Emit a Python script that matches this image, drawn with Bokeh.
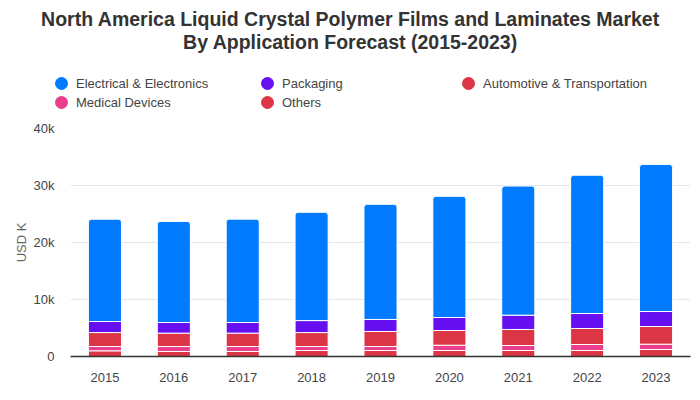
from bokeh.plotting import figure
from bokeh.models import (ColumnDataSource, Range1d, FactorRange, Legend, LegendItem,
                          Label, NumeralTickFormatter, SingleIntervalTicker)
from bokeh.embed import file_html
from bokeh.resources import INLINE

years = ["2015", "2016", "2017", "2018", "2019", "2020", "2021", "2022", "2023"]
others = [1000, 880, 880, 1050, 1050, 1050, 1050, 1050, 1230]
medical = [750, 870, 870, 700, 700, 930, 880, 1050, 930]
automotive = [2450, 2350, 2350, 2450, 2640, 2580, 2810, 2810, 3100]
packaging = [1940, 1860, 1860, 2100, 2110, 2280, 2510, 2630, 2640]
electrical = [17950, 17740, 18140, 19000, 20200, 21260, 22650, 24260, 25800]

series = ["Others", "Medical Devices", "Automotive & Transportation", "Packaging",
          "Electrical & Electronics"]
colors = ["#dc3545", "#e83e8c", "#dc3545", "#6610f2", "#007bff"]
title_lines = ["North America Liquid Crystal Polymer Films and Laminates Market",
               "By Application Forecast (2015-2023)"]

FONT = "Liberation Sans"
W = 692
HEAD_H = 118

# ---------------- header: title + legend (separate root, frame = whole canvas) ----
head = figure(width=W, height=HEAD_H, x_range=Range1d(0, W), y_range=Range1d(0, HEAD_H),
              output_backend="svg", toolbar_location=None,
              x_axis_location=None, y_axis_location=None,
              min_border_left=0, min_border_right=0,
              min_border_top=0, min_border_bottom=0)
head.outline_line_color = None
head.xgrid.visible = False
head.ygrid.visible = False

for i, t in enumerate(title_lines):
    head.add_layout(Label(x=350, y=100 - 23 * i, text=t, text_align="center",
                          text_baseline="middle", text_font=FONT,
                          text_font_size="19.5px", text_font_style="bold",
                          text_color="#333333"))

legend_order = ["Electrical & Electronics", "Packaging", "Automotive & Transportation",
                "Medical Devices", "Others"]
# (left of glyph box, bottom of item) in header pixels
positions = [(46, 20), (252, 20), (453, 20), (46, 1), (252, 1)]
color_of = dict(zip(series, colors))
for name, (lx, ly) in zip(legend_order, positions):
    proxy = head.scatter(x=[0], y=[0], marker="circle", size=12,
                         color=color_of[name], visible=False)
    leg = Legend(items=[LegendItem(label=name, renderers=[proxy])],
                 location=(lx, ly), padding=0, margin=0, spacing=0,
                 glyph_width=30, glyph_height=30, label_standoff=0,
                 border_line_alpha=0, background_fill_alpha=0,
                 inactive_fill_alpha=0, click_policy="none",
                 label_text_font=FONT, label_text_font_size="13px",
                 label_text_color="#444444", label_height=15)
    head.add_layout(leg, "center")

# ---------------- chart ----------------
source = ColumnDataSource(dict(year=years, **{
    "Others": others, "Medical Devices": medical,
    "Automotive & Transportation": automotive, "Packaging": packaging,
    "Electrical & Electronics": electrical}))

p = figure(x_range=FactorRange(*years), y_range=Range1d(0, 40000),
           width=W, height=274, output_backend="svg", toolbar_location=None,
           min_border_left=70, min_border_right=2, min_border_top=10,
           min_border_bottom=36)
p.outline_line_color = None

renderers = p.vbar_stack(series, x="year", width=0.48, color=colors, source=source,
                         line_color="white", line_width=1)
renderers[-1].glyph.border_radius = (3, 3, 0, 0)

p.xgrid.grid_line_color = None
p.ygrid.grid_line_color = "#e6e6e6"
p.ygrid.grid_line_width = 1
p.yaxis.ticker = SingleIntervalTicker(interval=10000)
p.yaxis.formatter = NumeralTickFormatter(format="0a")
p.yaxis.axis_line_color = None
p.yaxis.major_tick_line_color = None
p.yaxis.minor_tick_line_color = None
p.yaxis.major_tick_out = 0
p.yaxis.minor_tick_out = 0
p.yaxis.major_label_standoff = 16
p.yaxis.major_label_text_font = FONT
p.yaxis.major_label_text_font_size = "13px"
p.yaxis.major_label_text_color = "#444444"
p.yaxis.axis_label = "USD K"
p.yaxis.axis_label_text_font = FONT
p.yaxis.axis_label_text_font_size = "13px"
p.yaxis.axis_label_text_font_style = "normal"
p.yaxis.axis_label_text_color = "#666666"
p.yaxis.axis_label_standoff = 2

p.xaxis.axis_line_color = "#333333"
p.xaxis.axis_line_width = 1.5
p.xaxis.major_tick_line_color = None
p.xaxis.minor_tick_line_color = None
p.xaxis.major_tick_out = 0
p.xaxis.minor_tick_out = 0
p.xaxis.major_label_standoff = 16
p.xaxis.major_label_text_font = FONT
p.xaxis.major_label_text_font_size = "13px"
p.xaxis.major_label_text_color = "#444444"

open("out.html", "w").write(file_html([head, p], INLINE))
